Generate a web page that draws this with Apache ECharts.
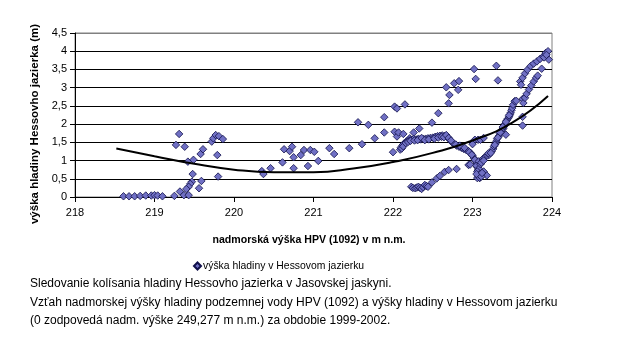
<!DOCTYPE html>
<html>
<head>
<meta charset="utf-8">
<script src="https://cdn.jsdelivr.net/npm/echarts@6/dist/echarts.min.js"></script>
<style>
html,body{margin:0;padding:0;background:#fff;}
#c{width:618px;height:363px;}
</style>
</head>
<body>
<div id="c"></div>
<script>
// axis ticks
const xTicks = [218, 219, 220, 221, 222, 223, 224];
const yTicks = [0, 0.5, 1, 1.5, 2, 2.5, 3, 3.5, 4, 4.5];

// scatter data, grouped by region: [HPV altitude (m a.s.l.), lake level (m)]
const leftCluster = [
  [218.61,0.02],[218.68,0.02],[218.75,0.02],[218.82,0.03],[218.89,0.04],[218.96,0.04],[219.00,0.05],[219.04,0.04],[219.10,0.02],[219.25,0.03],
  [219.31,1.73],[219.27,1.43],[219.38,1.38],[219.42,0.97],[219.49,1.02],[219.48,0.63],[219.47,0.42],[219.45,0.36],[219.43,0.28],[219.40,0.22],
  [219.32,0.15],[219.37,0.05],[219.43,0.05],[219.59,0.44],[219.56,0.24],[219.58,1.18],[219.61,1.31],[219.72,1.52],[219.74,1.61],[219.77,1.70],
  [219.81,1.67],[219.86,1.59],[219.79,1.15],[219.80,0.56]
];
const middleCluster = [
  [220.35,0.71],[220.37,0.63],[220.46,0.79],[220.61,0.95],[220.63,1.31],[220.70,1.26],[220.73,1.38],[220.75,1.09],[220.75,0.79],[220.84,1.15],
  [220.88,1.29],[220.93,0.85],[220.96,1.29],[221.01,1.24],[221.06,0.99],[221.20,1.34],[221.26,1.18],[221.45,1.34],[221.56,2.05],[221.61,1.45],
  [221.69,1.98],[221.77,1.61]
];
const upperScatter = [
  [221.89,2.19],[221.89,1.77],[222.02,2.48],[222.05,2.43],[222.15,2.54],[222.49,2.04],[222.57,2.30],[222.70,2.57],[222.71,2.80],[222.67,3.01],
  [222.82,2.94],[222.77,3.12],[222.83,3.18],[223.02,3.51],[223.04,3.24],[223.30,3.60],[223.32,3.20],
  [222.02,1.79],[222.05,1.66],[222.07,1.77],[222.13,1.73],[222.21,1.61],[222.26,1.77],[222.33,1.88],[222.17,1.52],[222.00,1.23]
];
const denseBand = [
  [222.09,1.30],[222.10,1.36],[222.12,1.42],[222.14,1.47],[222.17,1.52],[222.20,1.55],[222.23,1.57],[222.26,1.59],[222.29,1.58],[222.32,1.60],
  [222.35,1.58],[222.38,1.59],[222.41,1.60],[222.44,1.61],[222.47,1.62],[222.50,1.63],[222.53,1.65],[222.56,1.67],[222.59,1.68],[222.62,1.69],
  [222.65,1.68],[222.68,1.66],[222.71,1.58],[222.74,1.51],[222.77,1.45],[222.80,1.41],[222.83,1.38],[222.86,1.35],[222.89,1.32],[222.92,1.29],
  [222.95,1.26],[222.98,1.20],[223.00,1.13],[223.02,1.06],[223.04,0.98],[223.05,0.90],[223.06,0.82],[223.07,0.74],[223.08,0.66],[223.07,0.58],
  [223.09,0.52],[222.95,0.88],[222.97,0.89],[223.06,0.52],[223.09,0.53],[223.14,0.70],[223.18,0.59],[223.10,0.60],
  [223.03,1.57],[223.07,1.57],[223.10,1.57],[223.14,1.62],[223.00,1.45],
  [222.11,1.33],[222.13,1.39],[222.16,1.48],[222.19,1.51],[222.22,1.54],[222.27,1.55],[222.31,1.56],[222.36,1.62],[222.40,1.56],[222.45,1.58],
  [222.52,1.60],[222.57,1.63],[222.61,1.65],[222.64,1.64],[222.67,1.70],[222.70,1.62],[222.73,1.55],[222.79,1.44],[222.84,1.41],[222.90,1.35],
  [222.96,1.23],[222.99,1.16],[223.03,1.02],[223.05,0.86],[223.08,0.78],[223.06,0.70],[223.09,0.62],[223.11,0.56],[223.05,0.63],[223.12,0.66]
];
const lowerBand = [
  [222.23,0.28],[222.25,0.25],[222.28,0.24],[222.30,0.26],[222.32,0.28],[222.34,0.25],[222.36,0.22],[222.38,0.27],[222.40,0.33],[222.42,0.30],
  [222.44,0.28],[222.49,0.40],[222.55,0.51],[222.59,0.58],[222.65,0.69],[222.70,0.74],[222.80,0.77]
];
const risingBand = [
  [223.08,0.98],[223.10,0.90],[223.13,1.04],[223.15,1.08],[223.17,1.12],[223.19,1.14],[223.21,1.16],[223.24,1.25],[223.26,1.32],[223.27,1.39],
  [223.29,1.46],[223.30,1.53],[223.31,1.60],[223.33,1.67],[223.345,1.74],[223.36,1.80],[223.375,1.85],[223.39,1.89],[223.40,1.95],[223.41,2.01],
  [223.43,2.10],[223.445,2.15],[223.46,2.20],[223.47,2.26],[223.48,2.31],[223.49,2.38],[223.50,2.44],[223.51,2.53],[223.53,2.63],[223.42,1.71],
  [223.11,0.94],[223.14,1.00],[223.20,1.20],[223.23,1.21],[223.28,1.43],[223.32,1.63],[223.35,1.77],[223.38,1.92],[223.42,2.06],[223.46,2.24]
];
const rightBands = [
  [223.55,2.64],[223.63,2.69],[223.63,2.20],[223.63,1.96],
  [223.64,2.58],[223.66,2.72],[223.68,2.83],[223.71,2.95],[223.74,3.06],[223.77,3.17],[223.80,3.27],[223.82,3.33],
  [223.60,3.17],[223.61,3.08],[223.63,3.27],[223.66,3.39],[223.69,3.49],[223.73,3.59],[223.77,3.66],[223.81,3.72],
  [223.85,3.79],[223.89,3.86],[223.92,3.95],[223.95,4.00],[223.96,3.77],[223.87,3.52],[223.90,3.83],[223.93,3.90]
];

// polynomial trend line
const trendX = [218.52, 219.0, 219.5, 220.0, 220.5, 221.0, 221.5, 222.0, 222.5, 223.0, 223.5, 223.95];
const trendY = [1.33, 1.12, 0.91, 0.75, 0.68, 0.68, 0.78, 0.96, 1.21, 1.55, 2.04, 2.77];

const seriesName = 'výška hladiny v Hessovom jazierku';
const xTitle = 'nadmorská výška HPV (1092) v m n.m.';
const yTitle = 'výška hladiny Hessovho jazierka (m)';
const noteLines = [
  'Sledovanie kolísania hladiny Hessovho jazierka v Jasovskej jaskyni.',
  'Vzťah nadmorskej výšky hladiny podzemnej vody HPV (1092) a výšky hladiny v Hessovom jazierku',
  '(0 zodpovedá nadm. výške 249,277 m n.m.) za obdobie 1999-2002.'
];

const scatterData = [].concat(leftCluster, middleCluster, upperScatter, denseBand, lowerBand, risingBand, rightBands);
const trendData = trendX.map((x, i) => [x, trendY[i]]);

const FONT = '"Liberation Sans", Arial, sans-serif';
const chart = echarts.init(document.getElementById('c'), null, {renderer: 'canvas'});
const gridColors = yTicks.map((v, i) => i === yTicks.length - 1 ? '#808080' : '#000000');

chart.setOption({
  animation: false,
  backgroundColor: '#ffffff',
  textStyle: {fontFamily: FONT},
  grid: {left: 75, right: 66, top: 33, bottom: 166, show: true, borderColor: '#808080', borderWidth: 1},
  legend: {
    data: [seriesName],
    left: 188, top: 256,
    icon: 'diamond', itemWidth: 7, itemHeight: 7, itemGap: 2,
    textStyle: {fontFamily: FONT, fontSize: 10.4, color: '#000', padding: [0,0,0,-3]}
  },
  xAxis: {
    type: 'value', min: xTicks[0], max: xTicks[xTicks.length-1], interval: 1,
    axisLine: {show: true, onZero: false, lineStyle: {color: '#000', width: 1}},
    axisTick: {show: true, inside: false, length: 5, lineStyle: {color: '#000'}},
    axisLabel: {fontFamily: FONT, fontSize: 11, color: '#000', margin: 10},
    splitLine: {show: false}
  },
  yAxis: {
    type: 'value', min: yTicks[0], max: yTicks[yTicks.length-1], interval: 0.5,
    axisLine: {show: true, onZero: false, lineStyle: {color: '#000', width: 1}},
    axisTick: {show: true, inside: false, length: 5, lineStyle: {color: '#000'}},
    axisLabel: {fontFamily: FONT, fontSize: 11, color: '#000', margin: 8,
      formatter: v => String(v).replace('.', ',')},
    splitLine: {show: true, lineStyle: {color: gridColors, width: 1}}
  },
  series: [
    {
      name: seriesName, type: 'scatter', data: scatterData,
      symbol: 'diamond', symbolSize: 7.5,
      itemStyle: {color: '#7070c4', borderColor: '#10104a', borderWidth: 0.8, opacity: 1},
      z: 2
    },
    {
      name: 'trend', type: 'line', data: trendData, smooth: true,
      showSymbol: false, symbol: 'none',
      lineStyle: {color: '#000', width: 2},
      z: 3, silent: true
    }
  ],
  graphic: [
    {
      type: 'text', x: 35, y: 124, rotation: Math.PI / 2,
      style: {text: yTitle, font: 'bold 11.5px ' + FONT, fill: '#000', textAlign: 'center', textVerticalAlign: 'middle'}
    },
    {
      type: 'text', x: 309, y: 240,
      style: {text: xTitle, font: 'bold 10.6px ' + FONT, fill: '#000', textAlign: 'center', textVerticalAlign: 'middle'}
    }
  ].concat(noteLines.map((t, i) => ({
    type: 'text', left: 30, top: 278 + i * 18.5,
    style: {text: t, font: '12px ' + FONT, fill: '#000'}
  })))
});
</script>
</body>
</html>
